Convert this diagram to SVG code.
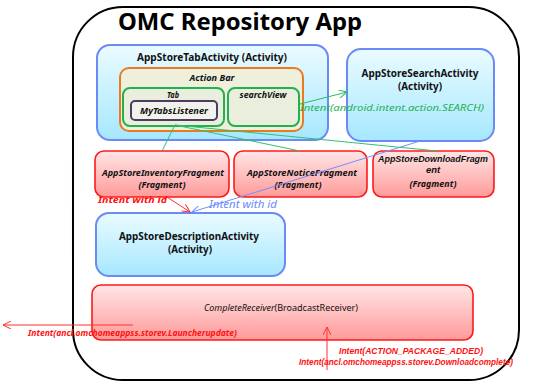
<svg xmlns="http://www.w3.org/2000/svg" width="546" height="385" viewBox="0 0 546 385">
<defs>
<linearGradient id="gBlue" x1="0" y1="0" x2="0" y2="1"><stop offset="0" stop-color="#eafbff"/><stop offset="1" stop-color="#a6e7ff"/></linearGradient>
<linearGradient id="gRed" x1="0" y1="0" x2="0" y2="1"><stop offset="0" stop-color="#ffe6e6"/><stop offset="1" stop-color="#ff9a9a"/></linearGradient>
<marker id="aGreen" markerWidth="10" markerHeight="8" refX="8" refY="4" orient="auto" markerUnits="userSpaceOnUse"><path d="M0,0 L8,4 L0,8" fill="none" stroke="#22c060" stroke-width="1"/></marker>
<marker id="aBlue" markerWidth="10" markerHeight="8" refX="8" refY="4" orient="auto" markerUnits="userSpaceOnUse"><path d="M0,0 L8,4 L0,8" fill="none" stroke="#7090ff" stroke-width="1"/></marker>
<marker id="aRed" markerWidth="10" markerHeight="8" refX="8" refY="4" orient="auto" markerUnits="userSpaceOnUse"><path d="M0,0 L8,4 L0,8" fill="none" stroke="#ff3030" stroke-width="1"/></marker>
</defs>
<style>
text{font-family:"Noto Sans","Open Sans","Liberation Sans",sans-serif;}
.tight{font-family:"Liberation Sans","Noto Sans",sans-serif;}
.act{fill:url(#gBlue);stroke:#6a8af6;stroke-width:2;}
.frag{fill:url(#gRed);stroke:#ff1a1a;stroke-width:1.6;}
.bt{font-size:10.5px;font-weight:bold;fill:#111;text-anchor:middle;}
.it{font-size:9.5px;font-weight:bold;font-style:italic;fill:#111;text-anchor:middle;}
.red{font-size:9.5px;font-weight:bold;font-style:italic;fill:#ff1010;}
.green{stroke:#30c070;stroke-width:1;fill:none;}
</style>
<rect width="546" height="385" fill="#fff"/>
<g id="app">
<rect x="73" y="7" width="446" height="373" rx="50" fill="none" stroke="#000" stroke-width="2"/>
<text x="118" y="30" font-size="24" font-weight="bold" fill="#000" textLength="244" lengthAdjust="spacingAndGlyphs">OMC Repository App</text>
</g>
<g id="tabActivity">
<rect class="act" x="97" y="45" width="231" height="95" rx="13"/>
<text class="bt" x="212" y="61" textLength="150" lengthAdjust="spacingAndGlyphs">AppStoreTabActivity (Activity)</text>
</g>
<g id="actionBar">
<rect x="120" y="68" width="183" height="63" rx="9" fill="#eef0dc" stroke="#e87a22" stroke-width="2"/>
<text class="it" x="212" y="81" textLength="45" lengthAdjust="spacingAndGlyphs">Action Bar</text>
</g>
<g id="tab">
<rect x="123" y="88" width="101" height="38" rx="7" fill="#eaeedc" stroke="#22b050" stroke-width="2"/>
<text class="it" x="173" y="98" textLength="12" lengthAdjust="spacingAndGlyphs">Tab</text>
</g>
<g id="myTabsListener">
<rect x="131" y="101" width="86" height="19" rx="4" fill="#f2f2ec" stroke="#4e3c62" stroke-width="2"/>
<text class="it" x="174" y="114" textLength="68" lengthAdjust="spacingAndGlyphs">MyTabsListener</text>
</g>
<g id="searchView">
<rect x="228" y="88" width="71" height="38" rx="7" fill="#eaeedc" stroke="#22b050" stroke-width="2"/>
<text class="it" x="263" y="98" textLength="47" lengthAdjust="spacingAndGlyphs">searchView</text>
</g>
<g id="searchActivity">
<rect class="act" x="347" y="49" width="147" height="92" rx="14"/>
<text class="bt" x="420" y="77" textLength="117" lengthAdjust="spacingAndGlyphs">AppStoreSearchActivity</text>
<text class="bt" x="420" y="90" textLength="44" lengthAdjust="spacingAndGlyphs">(Activity)</text>
</g>
<g id="inventoryFragment">
<rect class="frag" x="95" y="151" width="134" height="46" rx="9"/>
<text class="it" x="163" y="176" textLength="122" lengthAdjust="spacingAndGlyphs">AppStoreInventoryFragment</text>
<text class="it" x="162" y="188" textLength="47" lengthAdjust="spacingAndGlyphs">(Fragment)</text>
</g>
<g id="noticeFragment">
<rect class="frag" x="234" y="151" width="133" height="46" rx="9"/>
<text class="it" x="302" y="176" textLength="110" lengthAdjust="spacingAndGlyphs">AppStoreNoticeFragment</text>
<text class="it" x="298" y="188" textLength="47" lengthAdjust="spacingAndGlyphs">(Fragment)</text>
</g>
<g id="downloadFragment">
<rect class="frag" x="373" y="151" width="121" height="46" rx="9"/>
<text class="it tight" x="433" y="162" font-size="9" textLength="110" lengthAdjust="spacingAndGlyphs">AppStoreDownloadFragm</text>
<text class="it tight" x="433" y="173" font-size="9">ent</text>
<text class="it" x="433" y="187" textLength="47" lengthAdjust="spacingAndGlyphs">(Fragment)</text>
</g>
<g id="descriptionActivity">
<rect class="act" x="96" y="213" width="189" height="63" rx="13"/>
<text class="bt" x="189" y="240" textLength="140" lengthAdjust="spacingAndGlyphs">AppStoreDescriptionActivity</text>
<text class="bt" x="190" y="253" textLength="44" lengthAdjust="spacingAndGlyphs">(Activity)</text>
</g>
<g id="completeReceiver">
<rect class="frag" x="92" y="285" width="381" height="55" rx="9"/>
<text x="204" y="311" font-size="9.5" fill="#111" textLength="154" lengthAdjust="spacingAndGlyphs"><tspan font-style="italic">CompleteReceiver</tspan>(BroadcastReceiver)</text>
</g>
<g id="connectors">
<line class="green" x1="175" y1="125" x2="162" y2="151"/>
<line class="green" x1="175" y1="125" x2="300" y2="151"/>
<line class="green" x1="175" y1="125" x2="437" y2="151"/>
<line x1="300" y1="104" x2="347" y2="92" stroke="#22c060" stroke-width="1" marker-end="url(#aGreen)"/>
<text x="300" y="111" font-size="9.5" font-style="italic" fill="#22b050" textLength="184" lengthAdjust="spacingAndGlyphs">Intent(android.intent.action.SEARCH)</text>
<line x1="420" y1="141" x2="192" y2="212" stroke="#7090ff" stroke-width="1" marker-end="url(#aBlue)"/>
<text x="209" y="208" font-size="10" font-style="italic" fill="#6a88ff" textLength="68" lengthAdjust="spacingAndGlyphs">Intent with id</text>
<line x1="167" y1="197" x2="190" y2="212" stroke="#ff3030" stroke-width="1" marker-end="url(#aRed)"/>
<text class="red" x="98" y="203" textLength="69" lengthAdjust="spacingAndGlyphs">Intent with id</text>
<line x1="133" y1="325" x2="3" y2="325" stroke="#ff3030" stroke-width="1" marker-end="url(#aRed)"/>
<text class="red" x="28" y="336" textLength="209" lengthAdjust="spacingAndGlyphs">Intent(ancl.omchomeappss.storev.Launcherupdate)</text>
<line x1="327" y1="370" x2="327" y2="327" stroke="#ff3030" stroke-width="1" marker-end="url(#aRed)"/>
<text class="red tight" x="339" y="354" font-size="9" textLength="144" lengthAdjust="spacingAndGlyphs">Intent(ACTION_PACKAGE_ADDED)</text>
<text class="red tight" x="299" y="365" font-size="9" textLength="214" lengthAdjust="spacingAndGlyphs">Intent(ancl.omchomeappss.storev.Downloadcomplete)</text>
</g>
</svg>
